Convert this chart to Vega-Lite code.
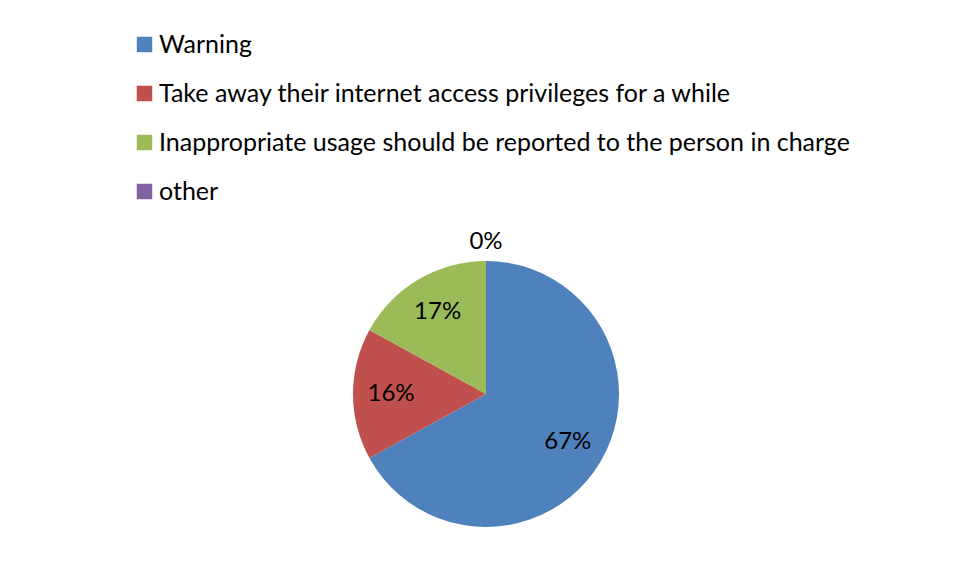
{
  "$schema": "https://vega.github.io/schema/vega-lite/v6.json",
  "width": 266,
  "height": 266,
  "autosize": {"type": "none"},
  "padding": {"left": 353, "top": 261, "right": 346, "bottom": 51},
  "background": "white",
  "config": {"view": {"stroke": null}, "font": "Lato"},
  "data": {
    "values": [
      {"category": "Warning", "share": 0.67, "order": 1},
      {"category": "Take away their internet access privileges for a while", "share": 0.16, "order": 2},
      {"category": "Inappropriate usage should be reported to the person in charge", "share": 0.17, "order": 3},
      {"category": "other", "share": 0, "order": 4}
    ]
  },
  "encoding": {
    "theta": {"field": "share", "type": "quantitative", "stack": true},
    "order": {"field": "order", "type": "quantitative", "sort": "ascending"}
  },
  "layer": [
    {
      "mark": {"type": "arc", "radius": 133, "strokeWidth": 0},
      "encoding": {
        "color": {
          "field": "category",
          "type": "nominal",
          "scale": {
            "domain": [
              "Warning",
              "Take away their internet access privileges for a while",
              "Inappropriate usage should be reported to the person in charge",
              "other"
            ],
            "range": ["#4F81BD", "#C0504D", "#9BBB59", "#8064A2"]
          },
          "legend": {
            "orient": "none",
            "legendX": -221,
            "legendY": -229,
            "title": null,
            "symbolType": "square",
            "symbolSize": 240,
            "symbolStrokeWidth": 0,
            "symbolOpacity": 1,
            "labelFontSize": 25,
            "labelFont": "Lato",
            "labelColor": "black",
            "labelOffset": 2,
            "labelLimit": 900,
            "rowPadding": 23
          }
        }
      }
    },
    {
      "mark": {"type": "text", "radius": 95, "fontSize": 24, "font": "Lato", "color": "black", "baseline": "middle", "align": "center"},
      "encoding": {
        "text": {"field": "share", "type": "quantitative", "format": ".0%", "condition": {"test": "datum.share == 0", "value": ""}}
      }
    },
    {
      "mark": {"type": "text", "radius": 152, "fontSize": 24, "font": "Lato", "color": "black", "baseline": "middle", "align": "center"},
      "encoding": {
        "text": {"field": "share", "type": "quantitative", "format": ".0%", "condition": {"test": "datum.share != 0", "value": ""}}
      }
    }
  ]
}
